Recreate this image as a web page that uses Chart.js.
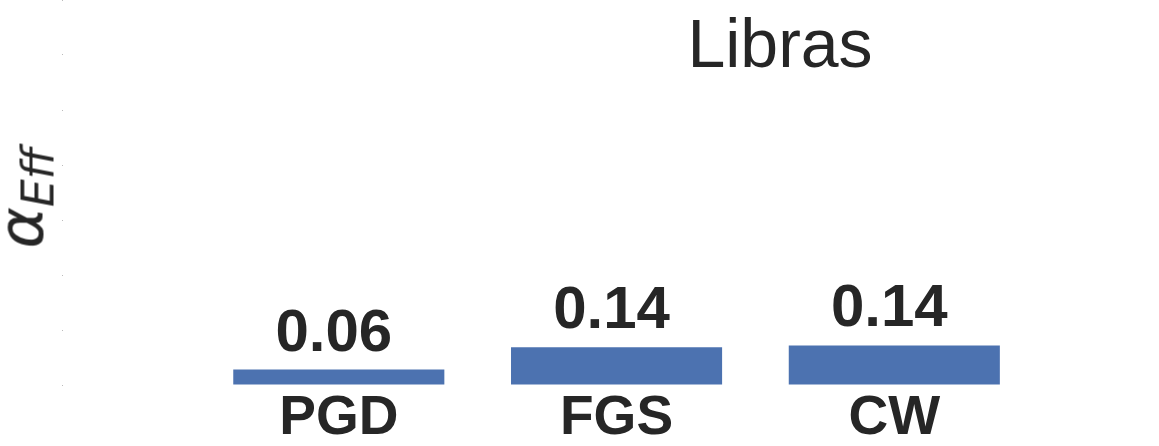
<!DOCTYPE html>
<html>
<head>
<meta charset="utf-8">
<script src="https://cdn.jsdelivr.net/npm/chart.js@4"></script>
<style>
  html, body { margin: 0; padding: 0; background: #fff; overflow: hidden; }
  #wrap { position: relative; width: 1159px; height: 446px; }
  #chartTitle {
    position: absolute; left: 780px; top: 9px; transform: translateX(-50%);
    font-family: "Liberation Sans", Arial, sans-serif; font-size: 68px; line-height: 68px;
    color: #262626; white-space: nowrap;
  }
  #yTitle {
    position: absolute; left: 30px; top: 198px;
    transform: translate(-50%, -50%) rotate(-90deg);
    font-family: "DejaVu Sans", sans-serif; font-style: italic; font-size: 63px; line-height: 66px;
    color: #262626; white-space: nowrap;
  }
  #yTitle sub { font-size: 44px; vertical-align: -11px; }
</style>
</head>
<body>
<div id="wrap">
  <canvas id="chart" width="1159" height="446"></canvas>
  <div id="chartTitle">Libras</div>
  <div id="yTitle">α<sub>Eff</sub></div>
</div>
<script>
// データ
const categories = ['PGD', 'FGS', 'CW'];
const alphaEff = [0.056, 0.137, 0.144];

const textColor = '#262626';
const barColor = '#4c72b0';

// 棒の上に値を描く
const valueLabels = {
    id: 'valueLabels',
    afterDatasetsDraw(chart) {
        const ctx = chart.ctx;
        const meta = chart.getDatasetMeta(0);
        ctx.save();
        ctx.font = 'bold 60px "Liberation Sans", Arial, sans-serif';
        ctx.fillStyle = textColor;
        ctx.textAlign = 'center';
        ctx.textBaseline = 'alphabetic';
        meta.data.forEach(function(bar, i) {
            ctx.fillText(alphaEff[i].toFixed(2), bar.x - 5, bar.y - 19);
        });
        ctx.restore();
    }
};

new Chart(document.getElementById('chart'), {
    type: 'bar',
    data: {
        datasets: [{
            label: 'Libras',
            data: categories.map((c, i) => ({ x: i, y: alphaEff[i] })),
            backgroundColor: barColor,
            borderWidth: 0,
            barPercentage: 0.76,
            categoryPercentage: 1.0
        }]
    },
    options: {
        responsive: false,
        animation: false,
        layout: { padding: 0 },
        plugins: {
            legend: { display: false },
            title: { display: false },
            tooltip: { enabled: false }
        },
        scales: {
            x: {
                type: 'linear',
                offset: false,
                min: -0.993,
                max: 2.953,
                grid: { display: false, offset: false },
                border: { display: false },
                afterBuildTicks: function(scale) {
                    scale.ticks = categories.map((c, i) => ({ value: i }));
                },
                afterFit: function(scale) { scale.height = 61; },
                ticks: {
                    autoSkip: false,
                    maxRotation: 0,
                    padding: -7,
                    color: textColor,
                    font: { family: '"Liberation Sans", Arial, sans-serif', size: 55, weight: 'bold' },
                    callback: function(v) { return categories[v] ?? ''; }
                }
            },
            y: {
                min: 0,
                max: 1.4,
                border: { display: false },
                grid: { drawOnChartArea: false, tickLength: 1, color: '#bbbbbb' },
                afterFit: function(scale) { scale.width = 63; },
                ticks: { display: false, stepSize: 0.2 }
            }
        }
    },
    plugins: [valueLabels]
});
</script>
</body>
</html>
